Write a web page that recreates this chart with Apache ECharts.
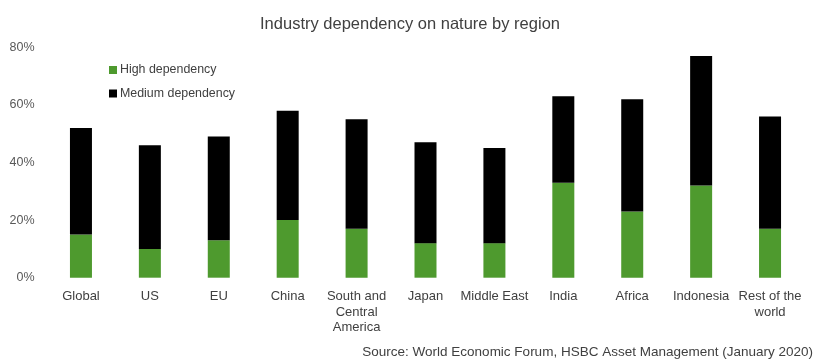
<!DOCTYPE html>
<html>
<head>
<meta charset="utf-8">
<script src="https://cdn.jsdelivr.net/npm/echarts@6/dist/echarts.min.js"></script>
<style>html,body{margin:0;padding:0;background:#fff;}#c{width:820px;height:363px;}</style>
</head>
<body>
<div id="c"></div>
<script>
const categories = ['Global', 'US', 'EU', 'China', 'South and\nCentral\nAmerica', 'Japan', 'Middle East', 'India', 'Africa', 'Indonesia', 'Rest of the\nworld'];
const highDependency = [15, 10, 13, 20, 17, 12, 12, 33, 23, 32, 17];
const mediumDependency = [37, 36, 36, 38, 38, 35, 33, 30, 39, 45, 39];
const yTicks = [0, 20, 40, 60, 80];

const font = '"Liberation Sans", Arial, sans-serif';
const chart = echarts.init(document.getElementById('c'), null, {renderer: 'canvas'});
chart.setOption({
  animation: false,
  backgroundColor: '#fff',
  title: {
    text: 'Industry dependency on nature by region',
    left: 'center', top: 11,
    textStyle: {fontFamily: font, fontSize: 16.5, fontWeight: 'normal', color: '#404040'}
  },
  graphic: [{
    type: 'text', right: 7, top: 345,
    style: {text: 'Source: World Economic Forum, HSBC Asset Management (January 2020)', fontFamily: font, fontSize: 13.5, fill: '#404040'}
  }],
  legend: {
    orient: 'vertical', left: 104, top: 59,
    itemWidth: 8, itemHeight: 8, itemGap: 11.5,
    icon: 'rect',
    textStyle: {fontFamily: font, fontSize: 12.4, color: '#404040', padding: [0,0,0,-2]},
    data: ['High dependency', 'Medium dependency']
  },
  grid: {left: 46.5, right: 15.5, top: 47.3, bottom: 85.3, containLabel: false},
  xAxis: {
    type: 'category', data: categories,
    axisLine: {show: false}, axisTick: {show: false},
    axisLabel: {interval: 0, fontFamily: font, fontSize: 13, color: '#404040', lineHeight: 15.5, margin: 11}
  },
  yAxis: {
    type: 'value', min: 0, max: 80, interval: 20,
    splitLine: {show: false}, axisLine: {show: false}, axisTick: {show: false},
    axisLabel: {fontFamily: font, fontSize: 12.5, color: '#595959', margin: 12,
      formatter: v => yTicks.includes(v) ? v + '%' : ''}
  },
  series: [
    {name: 'High dependency', type: 'bar', stack: 'a', data: highDependency, barWidth: 22,
      itemStyle: {color: '#4e9a2e'}},
    {name: 'Medium dependency', type: 'bar', stack: 'a', data: mediumDependency, barWidth: 22,
      itemStyle: {color: '#000000'}}
  ]
});
</script>
</body>
</html>
